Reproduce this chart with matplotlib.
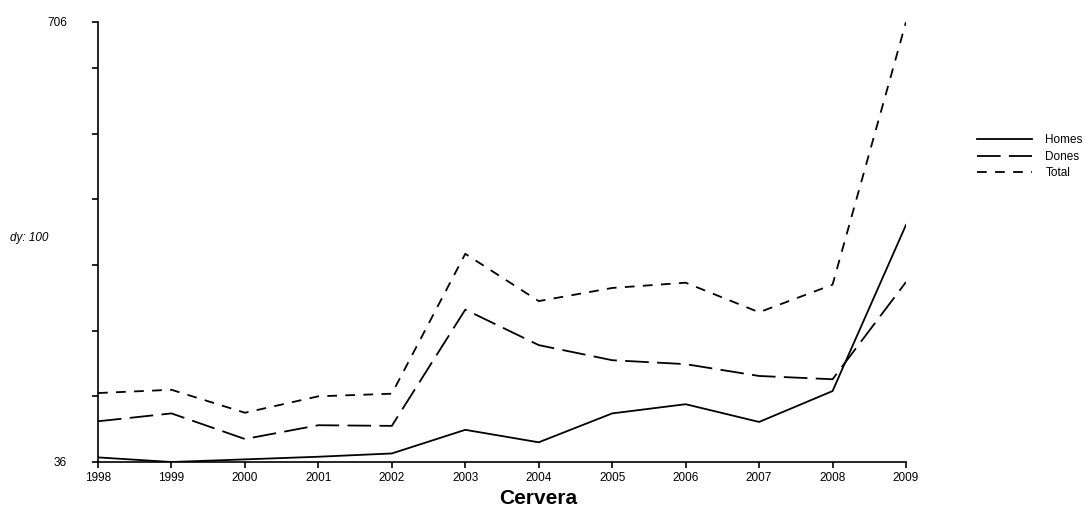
import matplotlib
matplotlib.use("Agg")
import matplotlib.pyplot as plt
from matplotlib.ticker import FixedLocator, FuncFormatter

plt.rcParams["font.family"] = ["Liberation Sans", "DejaVu Sans"]
plt.rcParams["lines.scale_dashes"] = False

years = [1998, 1999, 2000, 2001, 2002, 2003, 2004, 2005, 2006, 2007, 2008, 2009]
homes = [43, 36, 40, 44, 49, 85, 66, 110, 124, 97, 144, 397]
dones = [98, 110, 71, 92, 91, 268, 214, 191, 185, 167, 162, 310]
total = [141, 146, 111, 136, 140, 353, 281, 301, 309, 264, 306, 706]

y_min, y_max = 36, 706
y_ticks = [36, 136, 236, 336, 436, 536, 636, 706]
y_labelled = [36, 706]

W, H = 1086, 509
fig = plt.figure(figsize=(W / 100, H / 100), dpi=100)
ax = fig.add_axes([98 / W, 1 - 462 / H, 808 / W, 440 / H])

ax.plot(years, homes, color="black", lw=1.3, label="Homes")
ax.plot(years, dones, color="black", lw=1.3, linestyle=(0, (17, 6)), label="Dones")
ax.plot(years, total, color="black", lw=1.3, linestyle=(0, (7, 6)), label="Total")

ax.set_xlim(years[0], years[-1])
ax.set_ylim(y_min, y_max)
ax.set_xticks(years)
ax.yaxis.set_major_locator(FixedLocator(y_ticks))
ax.yaxis.set_major_formatter(
    FuncFormatter(lambda v, p: f"{int(round(v))}" if int(round(v)) in y_labelled else "")
)

for side in ("top", "right"):
    ax.spines[side].set_visible(False)
for side in ("left", "bottom"):
    ax.spines[side].set_linewidth(1.2)

ax.tick_params(axis="x", direction="out", length=4, width=1.2, pad=3, labelsize=8.5)
ax.tick_params(axis="y", direction="out", length=4.5, width=1.2, pad=18, labelsize=8.5)

fig.text(10 / W, 1 - 238 / H, "dy: 100", fontsize=8.5, style="italic",
         ha="left", va="center")
fig.text(538 / W, 1 - 499 / H, "Cervera", fontsize=15, fontweight="bold",
         ha="center", va="center")

fig.legend(loc="upper left", bbox_to_anchor=(977 / W, 1 - 134 / H),
           frameon=False, fontsize=8.5, borderpad=0, borderaxespad=0,
           handlelength=4.7, handletextpad=1.1, labelspacing=0.4)

fig.savefig("out.png", dpi=100)
